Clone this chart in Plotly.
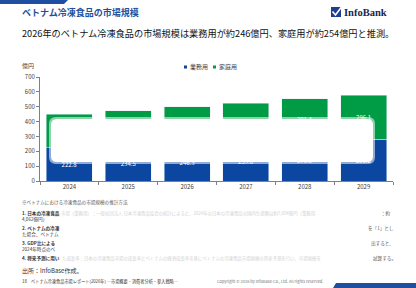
import plotly.graph_objects as go

years = ["2024", "2025", "2026", "2027", "2028", "2029"]
business = [222.8, 234.5, 246.3, 259.6, 270.6, 281.2]
household = [227.2, 239.5, 253.8, 264.4, 281.4, 296.1]
y_ticks = [0, 100, 200, 300, 400, 500, 600, 700]

BLUE = "#0B47A1"
GREEN = "#009B45"
HEAD = "#1F4FA0"
FONT = "Noto Sans CJK JP"

W, H = 416, 288
L, R, T, B = 40, 393, 77, 181


def X(px):
    return (px - L) / (R - L)


def Y(py):
    return (B - py) / (B - T)


fig = go.Figure()
fig.add_trace(go.Bar(x=years, y=business, name="業務用", marker_color=BLUE,
                     texttemplate="%{y:.1f}", textposition="inside",
                     insidetextanchor="middle",
                     textfont=dict(color="white", size=6, family=FONT)))
fig.add_trace(go.Bar(x=years, y=household, name="家庭用", marker_color=GREEN,
                     texttemplate="%{y:.1f}", textposition="inside",
                     insidetextanchor="middle",
                     textfont=dict(color="white", size=6, family=FONT)))

shapes = []
ann = []


def text(px, py, s, size, color="#404040", anchor="left", bold=False, family=FONT):
    if bold:
        s = "<b>" + s + "</b>"
    ann.append(dict(x=X(px), y=Y(py), xref="paper", yref="paper", text=s,
                    showarrow=False, xanchor=anchor, yanchor="middle", align="left",
                    font=dict(size=size, color=color, family=family)))


def rrect(x0, y0, x1, y1, r, color, opacity):
    xa, xb, ya, yb = X(x0), X(x1), Y(y0), Y(y1)
    rx = r / (R - L)
    ry = r / (B - T)
    path = (f"M{xa+rx},{ya} L{xb-rx},{ya} Q{xb},{ya} {xb},{ya-ry} "
            f"L{xb},{yb+ry} Q{xb},{yb} {xb-rx},{yb} L{xa+rx},{yb} "
            f"Q{xa},{yb} {xa},{yb+ry} L{xa},{ya-ry} Q{xa},{ya} {xa+rx},{ya} Z")
    shapes.append(dict(type="path", path=path, xref="paper", yref="paper",
                       fillcolor=color, opacity=opacity, line_width=0, layer="above"))


def poly(pts, color):
    path = "M" + " L".join(f"{X(a)},{Y(b)}" for a, b in pts) + " Z"
    shapes.append(dict(type="path", path=path, xref="paper", yref="paper",
                       fillcolor=color, line_width=0, layer="above"))


# header / footer decorations
poly([(0, 0), (68, 0), (64, 4), (0, 4)], HEAD)
poly([(336, 283), (416, 283), (416, 288), (333, 288)], HEAD)
text(20, 12.5, "ベトナム冷凍食品の市場規模", 9, HEAD, bold=True)
# logo
shapes.append(dict(type="rect", xref="paper", yref="paper", x0=X(331), x1=X(341),
                   y0=Y(17), y1=Y(7), fillcolor="#1E3F8F", line_width=0, layer="above"))
shapes.append(dict(type="path", xref="paper", yref="paper",
                   path=f"M{X(332.5)},{Y(11.5)} L{X(335.5)},{Y(15)} L{X(343)},{Y(5)}",
                   line=dict(color="white", width=1.6), layer="above"))
text(342, 12, "InfoBank", 10.5, "#1A2550", bold=True, family="Liberation Serif")

text(20, 33, "2026年のベトナム冷凍食品の市場規模は業務用が約246億円、家庭用が約254億円と推測。",
     9.2, "#111111")

# axis title and legend
text(36, 65, "億円", 6, "#404040", anchor="right")
shapes.append(dict(type="rect", xref="paper", yref="paper", x0=X(184), x1=X(187),
                   y0=Y(68.5), y1=Y(65.5), fillcolor=BLUE, line_width=0))
text(188, 67, "業務用", 6, "#404040")
shapes.append(dict(type="rect", xref="paper", yref="paper", x0=X(213), x1=X(216),
                   y0=Y(68.5), y1=Y(65.5), fillcolor=GREEN, line_width=0))
text(217, 67, "家庭用", 6, "#404040")

# obscuring overlay over chart
rrect(49, 117, 375, 164, 7, "white", 0.55)
rrect(51, 119, 373, 162, 6, "white", 1.0)

# notes
NC = "#555555"
FC = "#D2D2D2"
BC = "#333333"
text(20, 202, "※ベトナムにおける冷凍食品の市場規模の推計方法", 4.6, NC)
text(20, 216, "<b>1. 日本の冷凍食品</b><br>4,062億円）", 4.6, BC)
text(59, 213, "市場（業務用）：一般社団法人 日本冷凍食品協会の統計によると、2024年の日本の冷凍食品の国内生産額は約7,894億円（業務用", 4.4, FC)
text(393, 213, "：約", 4.6, NC, anchor="right")
text(20, 231, "<b>2. ベトナムの冷凍</b><br>た場合、ベトナム", 4.6, BC)
text(396, 228, "を「1」とし", 4.6, NC, anchor="right")
text(20, 246, "<b>3. GDP比による</b><br>2024年時点のベ", 4.6, BC)
text(396, 243, "出すると、", 4.6, NC, anchor="right")
text(20, 258, "4. 将来予測に用い", 4.6, BC, bold=True)
text(60, 258, "た成長率：日本の冷凍食品市場の成長率とベトナムの経済成長率を基にベトナムの冷凍食品市場規模の将来予測を行い、市場規模を", 4.4, FC)
text(398, 258, "試算する。", 4.6, NC, anchor="right")
text(20, 270, "出所：InfoBase作成。", 6, BC)
text(20, 281, "18", 4.5, BC)
text(29, 281, "ベトナム冷凍食品市場レポート(2026年) ―市場概要・消費者分析・参入戦略―", 4.2, BC)
text(215, 281, "Copyright © 2026 by InfoBase Co., Ltd. All rights reserved.", 4, "#777777")

fig.update_layout(
    width=W, height=H, autosize=False,
    margin=dict(l=L, r=W - R, t=T, b=H - B, pad=0),
    paper_bgcolor="white", plot_bgcolor="white",
    barmode="stack", bargap=0.22, showlegend=False,
    font=dict(family=FONT, size=6, color="#404040"),
    shapes=shapes, annotations=ann,
    xaxis=dict(type="category", showline=True, linecolor="#808080", linewidth=1,
               ticks="outside", tickson="boundaries", ticklen=3, tickcolor="#808080",
               tickfont=dict(size=6, color="#404040"), showgrid=False),
    yaxis=dict(range=[0, 700], tickvals=y_ticks, showline=True, linecolor="#808080",
               linewidth=1, ticks="outside", ticklen=3, tickcolor="#808080",
               tickfont=dict(size=6, color="#404040"), showgrid=False, zeroline=False),
)

fig.write_html("out.html")
